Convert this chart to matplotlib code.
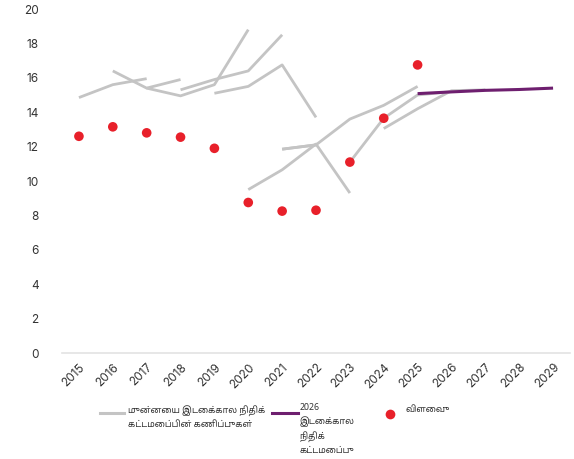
import matplotlib
matplotlib.use("Agg")
import matplotlib.pyplot as plt
from matplotlib.lines import Line2D
from matplotlib import font_manager as fm

years = [str(y) for y in range(2015, 2030)]

# outturn (விளைவு)
outturn_years = list(range(2015, 2026))
outturn = [12.6, 13.15, 12.8, 12.55, 11.9, 8.75, 8.25, 8.3, 11.1, 13.65, 16.75]

# previous medium-term fiscal framework projections
prev_starts = [2015, 2016, 2017, 2018, 2019, 2020, 2021, 2021, 2023, 2024]
prev_values = [
    [14.85, 15.6, 15.95],
    [16.4, 15.4, 15.9],
    [15.4, 14.95, 15.6, 18.8],
    [15.3, 15.9, 16.4, 18.5],
    [15.1, 15.5, 16.75, 13.7],
    [9.5, 10.65, 12.15, 9.3],
    [11.85, 12.1, 13.6, 14.4, 15.5],
    [11.85, 12.1],
    [11.1, 13.65, 15.0, 15.2],
    [13.05, 14.2, 15.25, 15.3],
]

# 2026 medium-term fiscal framework
mtff_years = [2025, 2026, 2027, 2028, 2029]
mtff = [15.08, 15.18, 15.27, 15.32, 15.4]

yticks = list(range(0, 21, 2))

legend_labels = [
    "முன்னைய இடைக்கால நிதிக்\nகட்டமைப்பின் கணிப்புகள்",
    "2026\nஇடைக்கால\nநிதிக்\nகட்டமைப்பு",
    "விளைவு",
]

GREY = "#c4c4c4"
PURPLE = "#6e1f6f"
RED = "#e8202a"
TXT = "#333333"

names = {f.name for f in fm.fontManager.ttflist}
tamil_fams = [n for n in ["Noto Sans Tamil", "Noto Serif Tamil", "Lohit Tamil", "Latha"] if n in names]
legend_family = tamil_fams + ["Liberation Serif", "DejaVu Sans"]
tick_family = ["Inter", "DejaVu Sans"]

W, H = 574, 459
fig = plt.figure(figsize=(W / 100, H / 100), dpi=100)
ax = fig.add_axes([62 / W, 1 - 353 / H, (570 - 62) / W, (353 - 9) / H])

pos = {y: i for i, y in enumerate(range(2015, 2030))}

for start, vals in zip(prev_starts, prev_values):
    xs = [pos[start + k] for k in range(len(vals))]
    ax.plot(xs, vals, color=GREY, lw=2.0, solid_capstyle="butt", zorder=2)

ax.plot([pos[y] for y in mtff_years], mtff, color=PURPLE, lw=2.2,
        solid_capstyle="butt", zorder=3)

ax.scatter([pos[y] for y in outturn_years], outturn, s=48, color=RED,
           edgecolors="none", zorder=4)

ax.set_xlim(-0.5, len(years) - 0.5)
ax.set_ylim(0, 20)
ax.set_xticks(range(len(years)))
ax.set_xticklabels(years, rotation=45, ha="right", va="top",
                   rotation_mode="anchor", family=tick_family,
                   fontsize=8.5, color=TXT)
ax.set_yticks(yticks)
ax.set_yticklabels([str(v) for v in yticks], family=tick_family,
                   fontsize=8.5, color=TXT)
ax.tick_params(axis="both", length=0)
ax.tick_params(axis="y", pad=17)
ax.tick_params(axis="x", pad=6)
for s in ["top", "right", "left"]:
    ax.spines[s].set_visible(False)
ax.spines["bottom"].set_color("#e3e3e3")
ax.spines["bottom"].set_linewidth(1.2)

# legend row beneath the axis
def fx(px):
    return px / W

def fy(py):
    return 1 - py / H

fig.add_artist(Line2D([fx(100), fx(124)], [fy(413), fy(413)], color=GREY, lw=2.2))
fig.text(fx(128), fy(405), legend_labels[0], ha="left", va="top",
         fontsize=6.3, family=legend_family, color=TXT, linespacing=1.55)
fig.add_artist(Line2D([fx(272), fx(298)], [fy(413), fy(413)], color=PURPLE, lw=2.2))
fig.text(fx(300), fy(403), legend_labels[1], ha="left", va="top",
         fontsize=6.3, family=legend_family, color=TXT, linespacing=1.55)
fig.add_artist(Line2D([fx(390)], [fy(414)], marker="o", markersize=7,
                      color=RED, markeredgewidth=0, lw=0))
fig.text(fx(405), fy(405), legend_labels[2], ha="left", va="top",
         fontsize=6.3, family=legend_family, color=TXT)

fig.savefig("out.png", dpi=100, facecolor="white")
